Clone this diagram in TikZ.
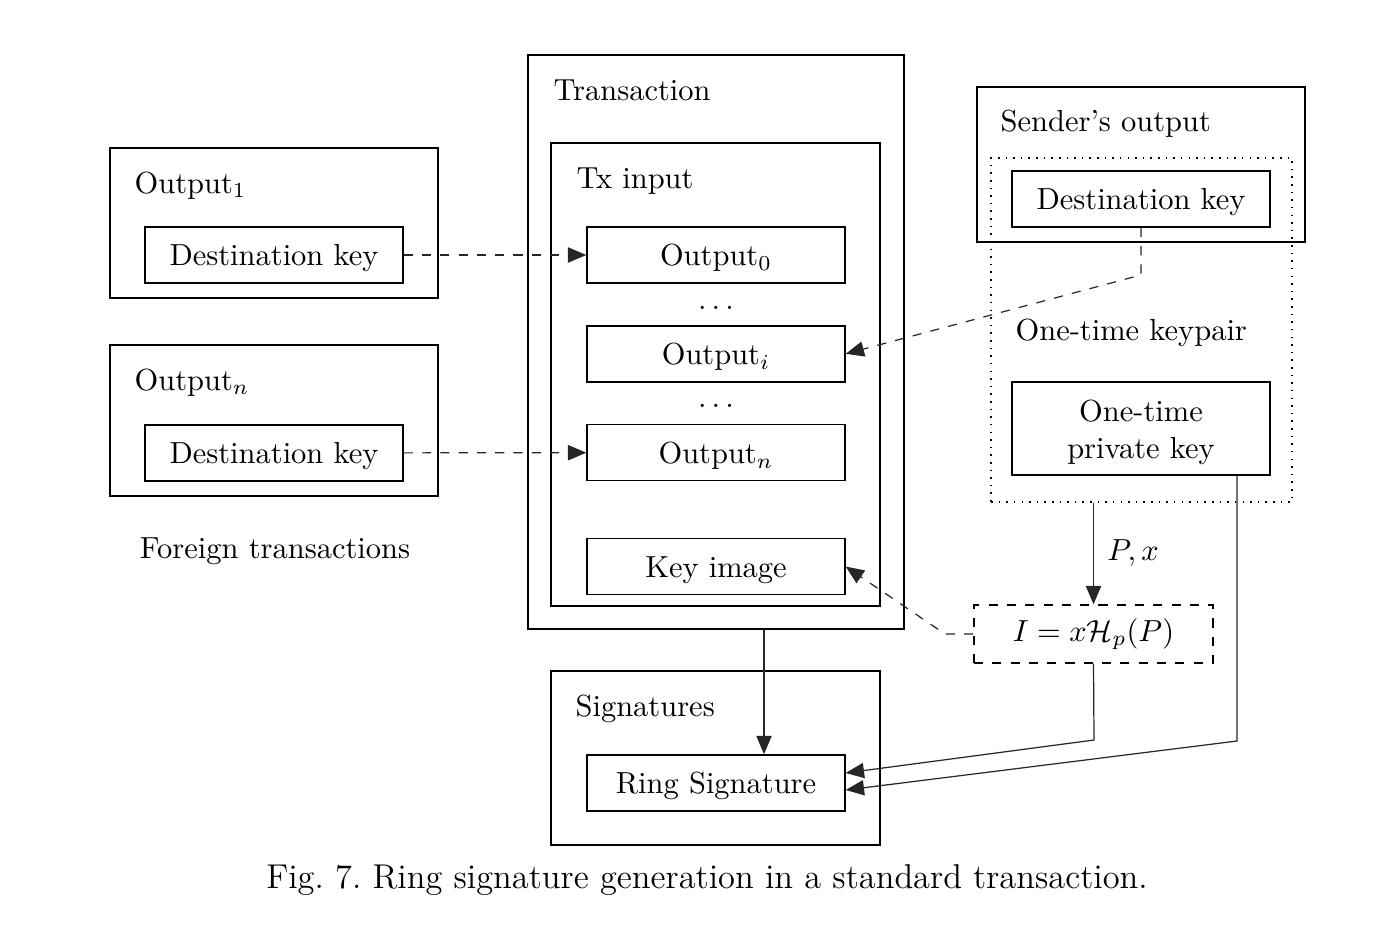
\documentclass[tikz,border=0pt]{standalone}
\usetikzlibrary{arrows.meta,positioning,calc,fit}
\tikzset{
  frame/.style={draw, inner sep=0pt, line width=0.5pt},
  kbox/.style={draw, line width=0.5pt, minimum width=84.6pt, minimum height=18.4pt,
               inner sep=0pt, align=center, text height=9.2pt, text depth=2pt},
  pairbox/.style={draw, dotted, inner sep=0pt, line width=0.5pt},
  ibox/.style={draw, dashed, line width=0.5pt, minimum width=78.4pt, minimum height=19pt, inner sep=0pt},
  title/.style={anchor=base west, inner sep=0pt},
  flow/.style={-{Triangle[length=6pt,width=5pt]}, line width=0.4pt, draw=black!85},
  flowd/.style={flow, dashed},
}
\begin{document}
\begin{tikzpicture}[x=0.328pt, y=-0.328pt]
    \useasboundingbox (0,0) rectangle (1396,950);
    % foreign transactions
    \node[kbox] (dkone) at (274,255) {Destination key};
    \node[kbox] (dktwo) at (274,453) {Destination key};
    \node[frame, fit={(110,148) (438,298)}] (outone) {};
    \node[frame, fit={(110,345) (438,496)}] (outtwo) {};
    \node[title] (toutone) at (134,193) {Output$_1$};
    \node[title] (touttwo) at (134,390) {Output$_n$};
    \node[anchor=base, inner sep=0pt] (foreign) at (275,558) {Foreign transactions};
    % transaction
    \node[frame, fit={(528,55) (904,629)}] (trans) {};
    \node[frame, fit={(551,143) (880,606)}] (txin) {};
    \node[title] (ttrans) at (553,100) {Transaction};
    \node[title] (ttxin) at (576,188) {Tx input};
    \node[kbox] (outz) at (716,255) {Output$_0$};
    \node[kbox, below=13.5pt of outz] (outi) {Output$_i$};
    \node[kbox, below=13.5pt of outi] (outn) {Output$_n$};
    \node[kbox, below=18.5pt of outn] (kimg) {Key image};
    \node[yshift=-1pt] (dotsa) at ($(outz)!0.5!(outi)$) {$\ldots$};
    \node[yshift=-1pt] (dotsb) at ($(outi)!0.5!(outn)$) {$\ldots$};
    % signatures
    \node[frame, fit={(551,671) (880,845)}] (sigs) {};
    \node[title] (tsigs) at (575,716) {Signatures};
    \node[kbox] (ring) at (716,783) {Ring Signature};
    % sender side
    \node[frame, fit={(977,87) (1305,242)}] (sender) {};
    \node[pairbox, fit={(991,158) (1292,502)}] (pair) {};
    \node[title] (tsender) at (1000,131) {Sender's output};
    \node[kbox] (dks) at (1141,199) {Destination key};
    \node[title] (tpair) at (1015,340) {One-time keypair};
    \node[kbox, minimum height=30.5pt, text height=22.5pt, text depth=3.1pt] (priv) at (1141,428.5) {One-time\\ private key};
    \node[ibox] (img) at (1093.5,634) {$I = x\mathcal{H}_p(P)$};
    % connectors
    \draw[flowd] (dkone) -- (outz);
    \draw[flowd] (dktwo) -- (outn);
    \coordinate (bend) at (1141,275);
    \draw[flowd] (dks.south) -- (bend) -- (outi.east);
    \draw[flow] (pair.south -| img.north) -- node[right, xshift=1pt] (px) {$P,x$} (img.north);
    \coordinate (kbend) at (945,634);
    \draw[flowd] (img.west) -- (kbend) -- (kimg.east);
    \coordinate (ibend) at (1094,740);
    \draw[flow] (img.south) -- (ibend) -- ([yshift=3.3pt]ring.east);
    \coordinate (pbend) at (1237,741);
    \draw[flow] (priv.south -| pbend) -- (pbend) -- ([yshift=-2.3pt]ring.east);
    \coordinate (tdrop) at (764,0);
    \draw[flow] (trans.south -| tdrop) -- (ring.north -| tdrop);
    % caption
    \node[anchor=base, inner sep=0pt, font=\fontsize{11.3}{13}\selectfont] (cap) at (707,888)
      {Fig.\ 7.\ Ring signature generation in a standard transaction.};
  \end{tikzpicture}
\end{document}
